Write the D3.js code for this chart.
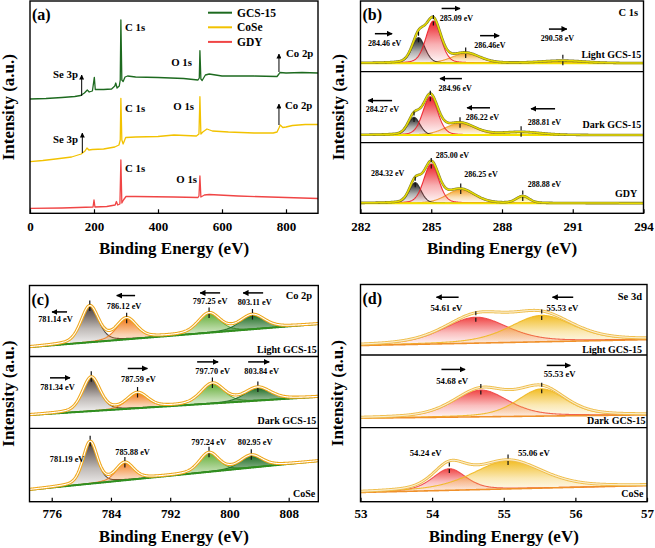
<!DOCTYPE html>
<html><head><meta charset="utf-8">
<script src="https://cdn.jsdelivr.net/npm/d3@7"></script>
<style>body{margin:0;background:#fff}svg{display:block}</style>
</head><body><svg id="chart" width="655" height="548"></svg>
<script>
// ================= DATA =================
// (a) survey spectra: [binding energy eV, intensity a.u.]
const surveyGCS15 = [[0,114.3],[50,114.8],[100,115.8],[140,116.8],[158,117.8],[170,120.3],[179,123.3],[185,121.3],[195,122.3],[201,136],[204,123.8],[230,123.8],[255,124.3],[265,127.3],[268,130.3],[272,125.3],[279,127.3],[282,133.3],[284,193.3],[287,133.3],[291,131.8],[297,136.3],[305,137.3],[330,136.3],[400,135.8],[480,134.8],[525,133.3],[529,135.3],[531,162.6],[534,134.3],[538,132.8],[548,138.3],[560,139.3],[600,137.3],[700,137.3],[772,136.8],[778,139.3],[781,140.8],[800,140.3],[850,140.8],[900,140.3]];
const surveyCoSe = [[0,51.6],[40,52.8],[80,54.3],[130,56.3],[160,59.3],[172,62.3],[178,65.3],[184,63.3],[195,63.8],[230,64.3],[265,66.3],[278,68.3],[282,73.3],[284,115],[287,73.3],[291,69.3],[299,75.8],[330,76.3],[400,76.8],[450,78.3],[520,77.3],[528,79.3],[531,116.6],[534,79.3],[540,81.3],[553,84.3],[570,82.3],[620,81.3],[700,80.3],[760,80.3],[772,81.3],[778,85.3],[782,88.3],[790,85.8],[800,86.3],[820,87.8],[860,88.8],[900,88.8]];
const surveyGDY = [[0,5],[100,5.3],[150,5.8],[197,6.3],[200,13.3],[203,6.3],[240,6.8],[266,8.3],[270,11.8],[274,8.3],[281,9.3],[284,53.3],[287,10.3],[292,13.3],[300,16.8],[330,16.8],[450,16.3],[525,15.8],[528,17.3],[531,37.3],[534,16.3],[545,18.3],[560,18.8],[650,17.3],[800,15.8],[900,14.8]];
const surveyNames = ["GCS-15","CoSe","GDY"];
const surveyTicks = [0,200,400,600,800];

// (b) C 1s fitted components: [centre eV, height a.u., FWHM eV]
const c1sLight = [[284.46,26,0.65],[285.09,43,0.75],[286.46,10,1.4],[290.58,2.5,2.2]];
const c1sDark  = [[284.27,18,0.6],[284.96,39,0.75],[286.22,12,1.5],[288.81,3,2.0]];
const c1sGDY   = [[284.32,21,0.6],[285.00,40,0.75],[286.25,14,1.4],[288.88,7,0.65]];
const c1sBackground = [[8.7,8.7],[7.7,7.7],[10.3,10.3]];
const c1sTicks = [282,285,288,291,294];

// (c) Co 2p fitted components
const co2pLight = [[781.14,36.5,2.8],[786.12,21,3.2],[797.25,19.7,3.5],[803.11,14.6,3.9]];
const co2pDark  = [[781.34,34,2.8],[787.59,15.2,3.3],[797.70,20,3.7],[803.84,13.1,4.1]];
const co2pCoSe  = [[781.19,41,2.3],[785.88,16.9,2.8],[797.24,18.7,3.1],[802.95,12.1,3.5]];
const co2pBackground = [[9.5,33],[13.3,31.6],[11.7,40]];
const co2pTicks = [776,784,792,800,808];

// (d) Se 3d fitted components
const se3dLight = [[54.61,26.5,1.05],[55.53,27,1.05]];
const se3dDark  = [[54.68,26.5,0.9],[55.53,27,0.8]];
const se3dCoSe  = [[54.24,21,0.55],[55.06,27.5,1.15]];
const se3dBackground = [[9.7,15.7],[9.4,12.7],[9,15.7]];
const se3dTicks = [53,54,55,56,57];

const sampleNames = ["Light GCS-15","Dark GCS-15"];

// ================= ANNOTATIONS (data coordinates) =================
const surveyNotes = [
  {t:"C 1s",E:297,v:186.3,a:"start"},{t:"O 1s",E:506,v:151.3,a:"end"},{t:"Co 2p",E:800,v:160.3,a:"start"},{t:"Se 3p",E:150,v:139.3,a:"end"},
  {t:"C 1s",E:297,v:105.3,a:"start"},{t:"O 1s",E:512.5,v:107.3,a:"end"},{t:"Co 2p",E:797,v:108.3,a:"start"},{t:"Se 3p",E:150,v:74.3,a:"end"},
  {t:"C 1s",E:297,v:45.3,a:"start"},{t:"O 1s",E:522,v:34.3,a:"end"}];
const surveyArrows = [[778,141.3,159.3],[161.5,117.3,138.3],[778,88.3,109.3],[163.5,60.3,80.3]];

const c1sNotes = [
  [{t:"284.46 eV",E:283.02,v:29},{t:"285.09 eV",E:286.07,v:54.4},{t:"286.46eV",E:287.49,v:26.7},{t:"290.58 eV",E:290.35,v:34.4}],
  [{t:"284.27 eV",E:282.93,v:33.4},{t:"284.96 eV",E:286.01,v:55.4},{t:"286.22 eV",E:287.17,v:26},{t:"288.81 eV",E:289.8,v:21}],
  [{t:"285.00 eV",E:285.9,v:59.3},{t:"284.32 eV",E:283.15,v:40.6},{t:"286.25 eV",E:287.11,v:39.3},{t:"288.88 eV",E:289.8,v:29.3}]];
const c1sArrows = [
  [[282.61,283.34,38.7],[285.44,286.22,64.4],[287.07,287.88,36.7],[289.99,290.75,43.4]],
  [[283.34,282.32,42.7],[286.3,285.37,65],[287.49,286.52,35.4],[290.25,289.23,34.4]],[]];
const co2pNotes = [
  [{t:"781.14 eV",E:776.51,v:37.8},{t:"786.12 eV",E:785.77,v:51.2},{t:"797.25 eV",E:797.39,v:56.2},{t:"803.11 eV",E:803.41,v:55.2}],
  [{t:"781.34 eV",E:776.78,v:41},{t:"787.59 eV",E:787.7,v:49},{t:"797.70 eV",E:797.73,v:57.6},{t:"803.84 eV",E:804.35,v:57.6}],
  [{t:"781.19 eV",E:778.07,v:41.7},{t:"785.88 eV",E:786.92,v:49},{t:"797.24 eV",E:797.19,v:58.4},{t:"802.95 eV",E:803.47,v:58.4}]];
const co2pArrows = [
  [[778.07,776.04,45.2],[787.26,784.78,61.8],[798.74,796.04,64.5],[804.55,801.85,64.5]],
  [[775.77,778.47,50.6],[786.27,788.92,60],[795.64,798.47,66.6],[802.53,805.37,66.6]],[]];
const se3dNotes = [
  [{t:"54.61 eV",E:54.2,v:48},{t:"55.53 eV",E:55.82,v:48}],
  [{t:"54.68 eV",E:54.28,v:46},{t:"55.53 eV",E:55.78,v:53.4}],
  [{t:"54.24 eV",E:53.91,v:47.4},{t:"55.06 eV",E:55.42,v:47.4}]];
const se3dArrows = [[[54.37,54.06,59],[55.97,55.68,59]],[[54.13,54.46,57.7],[55.6,55.93,61.7]],[]];

// ================= DRAWING =================
const FONT = '"Liberation Serif","Times New Roman",Times,serif';
const svg = d3.select("#chart");
const defs = svg.append("defs");
defs.append("marker").attr("id","ah").attr("viewBox","0 0 10 10").attr("refX",9).attr("refY",5)
  .attr("markerWidth",6).attr("markerHeight",6).attr("markerUnits","userSpaceOnUse").attr("orient","auto")
  .append("path").attr("d","M0,0L10,5L0,10Z").attr("fill","#000");
defs.append("marker").attr("id","ahs").attr("viewBox","0 0 10 10").attr("refX",9).attr("refY",5)
  .attr("markerWidth",5).attr("markerHeight",5).attr("markerUnits","userSpaceOnUse").attr("orient","auto")
  .append("path").attr("d","M0,0L10,5L0,10Z").attr("fill","#000");

function text(g,x,yc,s,size,anchor){
  return g.append("text").attr("x",x).attr("y",yc+0.34*size).attr("text-anchor",anchor||"middle")
    .attr("font-family",FONT).attr("font-weight","bold").attr("font-size",size).attr("fill","#000").text(s);
}
let gradCount=0;
function gradient(color){
  const id="g"+(gradCount++);
  const lg=defs.append("linearGradient").attr("id",id).attr("x1",0).attr("y1",0).attr("x2",0).attr("y2",1);
  lg.append("stop").attr("offset","0%").attr("stop-color",color).attr("stop-opacity",1);
  lg.append("stop").attr("offset","55%").attr("stop-color",color).attr("stop-opacity",0.35);
  lg.append("stop").attr("offset","100%").attr("stop-color",color).attr("stop-opacity",0.02);
  return "url(#"+id+")";
}
function axisX(x,frame,ticks,pad){
  const g=svg.append("g").attr("transform",`translate(0,${frame.y1})`)
    .call(d3.axisBottom(x).tickValues(ticks).tickFormat(d3.format("d")).tickSizeInner(-4).tickSizeOuter(0).tickPadding(pad));
  g.select(".domain").remove();
  g.attr("font-family",FONT).attr("font-size",13).attr("font-weight","bold");
  g.selectAll("line").attr("stroke","#000").attr("stroke-width",1.2);
}
function titles(frame,yCenterTitle,xTitleY){
  text(svg,(frame.x0+frame.x1)/2,xTitleY,"Binding Energy (eV)",17,"middle");
  const yc=(frame.y0+frame.y1)/2;
  svg.append("text").attr("transform",`translate(${yCenterTitle+0.34*17},${yc}) rotate(-90)`)
    .attr("text-anchor","middle").attr("font-family",FONT).attr("font-weight","bold").attr("font-size",17).text("Intensity (a.u.)");
}

// ---------- (a) ----------
const frameA={x0:30,x1:318,y0:1,y1:213.3};
const xA=d3.scaleLinear().domain([0,900]).range([frameA.x0,frameA.x1]);
const yA=d3.scaleLinear().domain([0,212.3]).range([frameA.y1,frameA.y0]);
const surveyColors=["#1d6a1f","#f2c200","#f04545"];
const lineA=d3.line().x(d=>xA(d[0])).y(d=>yA(d[1]));
[surveyGCS15,surveyCoSe,surveyGDY].forEach((s,i)=>{
  svg.append("path").attr("d",lineA(s)).attr("fill","none").attr("stroke",surveyColors[i]).attr("stroke-width",1.3).attr("stroke-linejoin","round");
});
surveyNotes.forEach(n=>text(svg,xA(n.E),yA(n.v),n.t,10.8,n.a));
surveyArrows.forEach(a=>svg.append("line").attr("x1",xA(a[0])).attr("x2",xA(a[0])).attr("y1",yA(a[1])).attr("y2",yA(a[2]))
  .attr("stroke","#000").attr("stroke-width",1).attr("marker-end","url(#ahs)"));
surveyNames.forEach((n,i)=>{
  const yc=12.7+i*14.6;
  svg.append("line").attr("x1",208).attr("x2",232).attr("y1",yc).attr("y2",yc).attr("stroke",surveyColors[i]).attr("stroke-width",2);
  text(svg,237,yc,n,11.5,"start");
});
axisX(xA,frameA,surveyTicks,8.5);
titles(frameA,8.3,248.3);

// ---------- fitted panels ----------
const LN = 4*Math.LN2;
function peakVal(E,p,eta){const d=(E-p[0])/p[2];return p[1]*((1-eta)*Math.exp(-LN*d*d)+eta/(1+4*d*d));}

function fitPanel(o){
  const f=o.frame;
  const x=d3.scaleLinear().domain(o.xDomain).range([f.x0,f.x1]);
  const bounds=[f.y0,...f.div,f.y1];
  const step=(o.xDomain[1]-o.xDomain[0])/500;
  const Es=d3.range(o.xDomain[0],o.xDomain[1]+step/2,step);
  const grads=o.colors.map(c=>gradient(c));
  o.subs.forEach((sub,i)=>{
    const y=d3.scaleLinear().domain([0,72]).range([bounds[i+1],bounds[i]]);
    const cid="clip"+o.id+i;
    defs.append("clipPath").attr("id",cid).append("rect").attr("x",f.x0).attr("y",bounds[i]).attr("width",f.x1-f.x0).attr("height",bounds[i+1]-bounds[i]);
    const g=svg.append("g").attr("clip-path",`url(#${cid})`);
    const bg=E=>sub.bg[0]+(sub.bg[1]-sub.bg[0])*(E-o.xDomain[0])/(o.xDomain[1]-o.xDomain[0]);
    o.order.forEach(k=>{
      const p=sub.peaks[k]; if(!p) return;
      const area=d3.area().x(E=>x(E)).y0(E=>y(bg(E))).y1(E=>y(bg(E)+peakVal(E,p,o.eta)));
      g.append("path").attr("d",area(Es)).attr("fill",grads[k]).attr("stroke","none");
      g.append("path").attr("d",d3.line().x(E=>x(E)).y(E=>y(bg(E)+peakVal(E,p,o.eta)))(Es))
        .attr("fill","none").attr("stroke",o.stroke[k]).attr("stroke-width",1.1).attr("stroke-opacity",0.9);
    });
    g.append("path").attr("d",d3.line().x(E=>x(E)).y(E=>y(bg(E)))(Es)).attr("fill","none").attr("stroke",o.bgColor).attr("stroke-width",o.bgWidth);
    const env=E=>bg(E)+d3.sum(sub.peaks,p=>peakVal(E,p,o.eta));
    const envLine=d3.line().x(E=>x(E)).y(E=>y(env(E)))(Es);
    o.envStyle.forEach(s=>g.append("path").attr("d",envLine).attr("fill","none").attr("stroke",s[0]).attr("stroke-width",s[1]));
    sub.peaks.forEach(p=>{
      if(p[1]<1) return;
      const top=bg(p[0])+p[1];
      g.append("line").attr("x1",x(p[0])).attr("x2",x(p[0])).attr("y1",y(top+6)).attr("y2",y(top-6))
        .attr("stroke","#111").attr("stroke-width",1.2).attr("stroke-dasharray","4,2.5");
    });
    sub.notes.forEach(n=>text(svg,x(n.E),y(n.v),n.t,o.labelSize,"middle"));
    sub.arrows.forEach(a=>svg.append("line").attr("x1",x(a[0])).attr("x2",x(a[1])).attr("y1",y(a[2])).attr("y2",y(a[2]))
      .attr("stroke","#000").attr("stroke-width",1.5).attr("marker-end","url(#ah)"));
    text(svg,x(sub.name[1]),y(sub.name[2]),sub.name[0],10,"end");
  });
  const yL=d3.scaleLinear().domain([0,72]).range([bounds[1],bounds[0]]);
  text(svg,x(o.level[1]),yL(o.level[2]),o.level[0],10.5,"end");
  f.div.forEach(d=>svg.append("line").attr("x1",f.x0).attr("x2",f.x1).attr("y1",d).attr("y2",d).attr("stroke","#000").attr("stroke-width",1.3));
  return x;
}

// (b)
const frameB={x0:360.5,x1:643.5,y0:1,y1:213.3,div:[71.7,142.7]};
const xB=fitPanel({id:"b",frame:frameB,xDomain:[282,294],eta:0.25,
  colors:["#1a1a1a","#ec1c24","#f4a020","#f5e21a"],stroke:["#2a2a2a","#ee1c25","#eea030","#f0dc10"],order:[3,2,0,1],
  bgColor:"#f3e000",bgWidth:2,envStyle:[["#7f7a2a",2.6],["#e6da00",1.5]],labelSize:8,
  level:["C 1s",293.77,60.7],
  subs:[
    {peaks:c1sLight,bg:c1sBackground[0],notes:c1sNotes[0],arrows:c1sArrows[0],name:[sampleNames[0],293.9,17.7]},
    {peaks:c1sDark,bg:c1sBackground[1],notes:c1sNotes[1],arrows:c1sArrows[1],name:[sampleNames[1],293.9,18.7]},
    {peaks:c1sGDY,bg:c1sBackground[2],notes:c1sNotes[2],arrows:c1sArrows[2],name:["GDY",293.73,20.6]}]});
axisX(xB,frameB,c1sTicks,8.5);
titles(frameB,338,248.3);

// (c)
const frameC={x0:29.5,x1:318.3,y0:285.5,y1:501.7,div:[356.5,428.3]};
const xC=fitPanel({id:"c",frame:frameC,xDomain:[773,812],eta:0.35,
  colors:["#4a3b33","#f07a1a","#63ad36","#1f6d23"],stroke:["#3a2d26","#f07a1a","#5aa030","#1f6d23"],order:[0,1,2,3],
  bgColor:"#2f8f1f",bgWidth:2,envStyle:[["#f0a81c",3.2],["#ffffff",1.1]],labelSize:8.3,
  level:["Co 2p",811.18,61.8],
  subs:[
    {peaks:co2pLight,bg:co2pBackground[0],notes:co2pNotes[0],arrows:co2pArrows[0],name:[sampleNames[0],811.8,6.8]},
    {peaks:co2pDark,bg:co2pBackground[1],notes:co2pNotes[1],arrows:co2pArrows[1],name:[sampleNames[1],811.72,7.3]},
    {peaks:co2pCoSe,bg:co2pBackground[2],notes:co2pNotes[2],arrows:co2pArrows[2],name:["CoSe",811.58,7.7]}]});
axisX(xC,frameC,co2pTicks,6.6);
titles(frameC,8.3,536.7);

// (d)
const frameD={x0:360.5,x1:647,y0:284.5,y1:501.7,div:[355,427.7]};
const xD=fitPanel({id:"d",frame:frameD,xDomain:[53,57],eta:0.4,
  colors:["#f04545","#f2bd25"],stroke:["#f04545","#f0b820"],order:[0,1],
  bgColor:"#f0902a",bgWidth:1.6,envStyle:[["#f0c050",3],["#ffffff",1]],labelSize:8.7,
  level:["Se 3d",56.93,60.3],
  subs:[
    {peaks:se3dLight,bg:se3dBackground[0],notes:se3dNotes[0],arrows:se3dArrows[0],name:[sampleNames[0],56.93,5.3]},
    {peaks:se3dDark,bg:se3dBackground[1],notes:se3dNotes[1],arrows:se3dArrows[1],name:[sampleNames[1],56.98,6.7]},
    {peaks:se3dCoSe,bg:se3dBackground[2],notes:se3dNotes[2],arrows:se3dArrows[2],name:["CoSe",56.95,7.4]}]});
axisX(xD,frameD,se3dTicks,6.6);
titles(frameD,337.7,536.7);

// frames and panel letters
[[frameA,"(a)"],[frameB,"(b)"],[frameC,"(c)"],[frameD,"(d)"]].forEach(([f,l])=>{
  svg.append("rect").attr("x",f.x0).attr("y",f.y0).attr("width",f.x1-f.x0).attr("height",f.y1-f.y0)
    .attr("fill","none").attr("stroke","#000").attr("stroke-width",1.4);
  text(svg,f.x0+2,f.y0+14,l,16,"start");
});
</script></body></html>
